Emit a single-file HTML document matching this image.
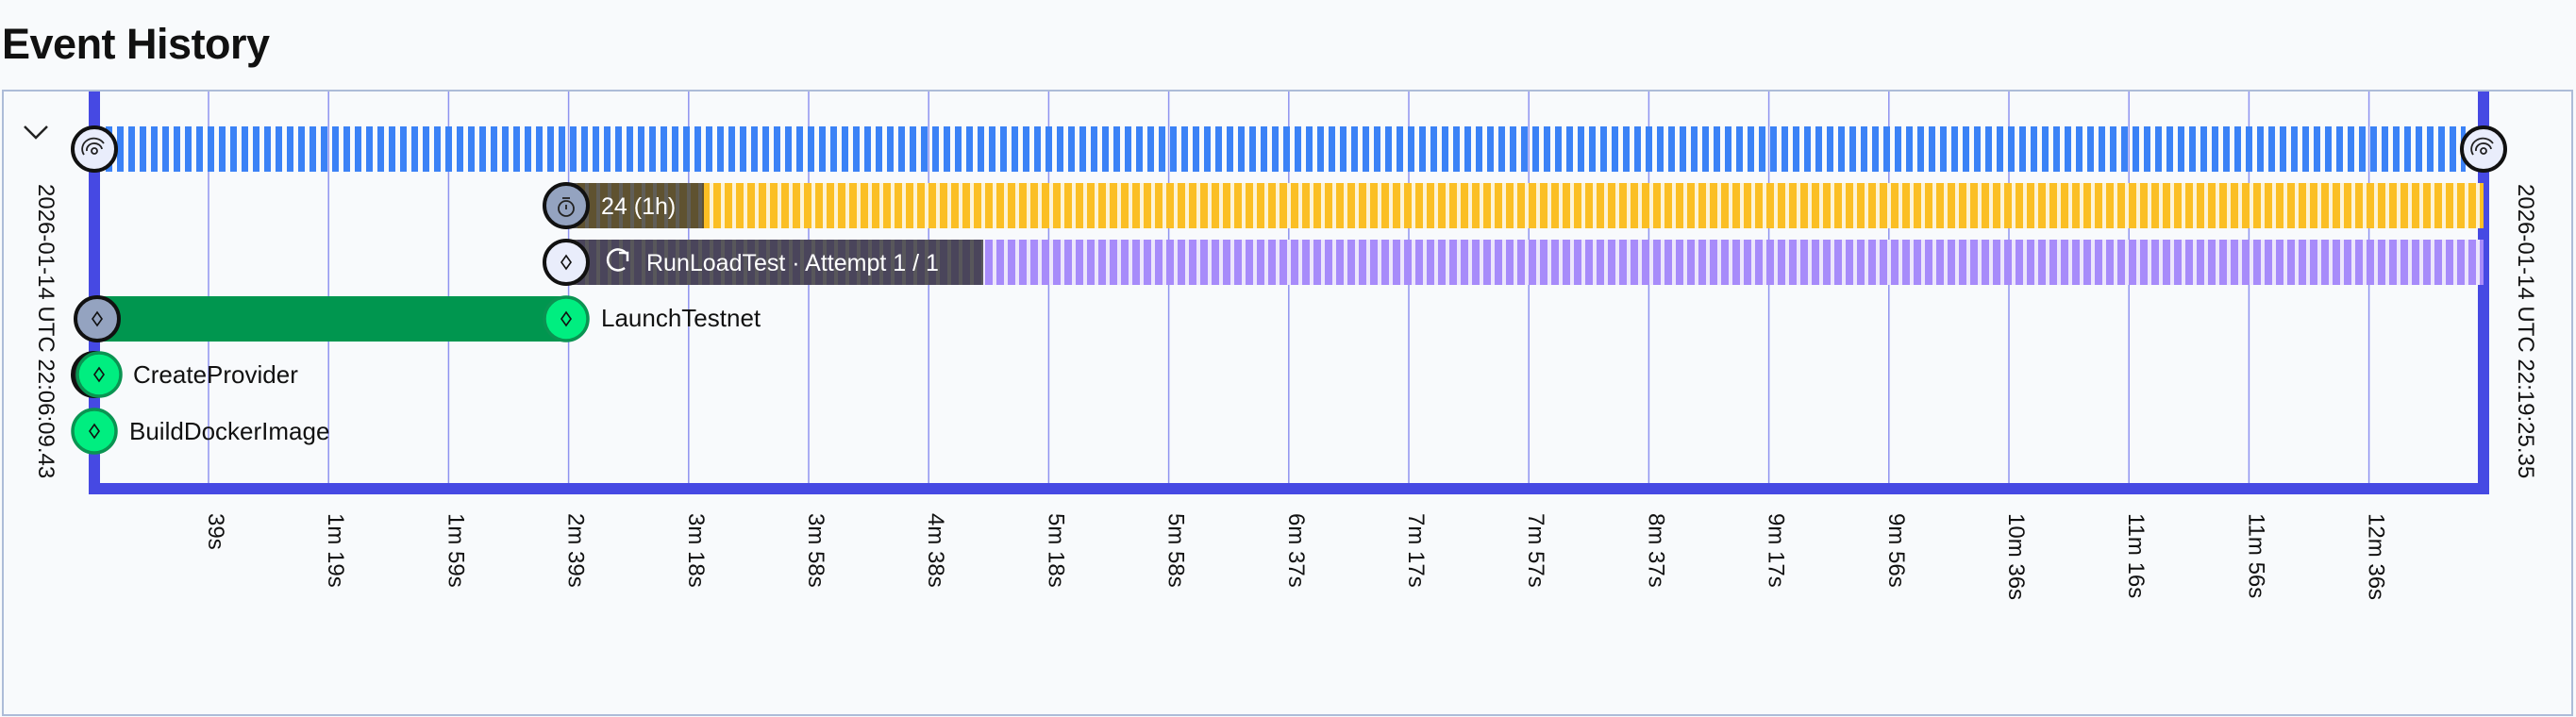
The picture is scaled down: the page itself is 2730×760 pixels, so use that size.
<!DOCTYPE html>
<html><head><meta charset="utf-8"><style>
html,body{margin:0;padding:0;background:#f8fafc;}
svg{display:block;font-family:"Liberation Sans",sans-serif;}
</style></head><body>
<svg width="2730" height="760" viewBox="0 0 2730 760" xmlns="http://www.w3.org/2000/svg">
<defs>
<pattern id="pb" x="100" y="0" width="12" height="10" patternUnits="userSpaceOnUse"><rect x="0" y="0" width="7" height="10" fill="#3b82f6"/></pattern>
<pattern id="py" x="600" y="0" width="12" height="10" patternUnits="userSpaceOnUse"><rect x="0" y="0" width="12" height="10" fill="#fdf3d6"/><rect x="0" y="0" width="8" height="10" fill="#fbbf24"/></pattern>
<pattern id="pp" x="600" y="0" width="12" height="10" patternUnits="userSpaceOnUse"><rect x="0" y="0" width="12" height="10" fill="#ece6fb"/><rect x="0" y="0" width="8" height="10" fill="#a78bfa"/></pattern>
</defs>
<rect width="2730" height="760" fill="#f8fafc"/>
<text x="2" y="62" font-size="45" font-weight="bold" fill="#111" letter-spacing="-0.5">Event History</text>
<rect x="3" y="96" width="2723" height="662" fill="none" stroke="#adbcd8" stroke-width="2"/>
<!-- gridlines -->
<g stroke="#8f93f0" stroke-width="1.5">
<line x1="221" y1="97" x2="221" y2="512"/><line x1="348.2" y1="97" x2="348.2" y2="512"/><line x1="475.4" y1="97" x2="475.4" y2="512"/><line x1="602.6" y1="97" x2="602.6" y2="512"/><line x1="729.8" y1="97" x2="729.8" y2="512"/><line x1="857" y1="97" x2="857" y2="512"/><line x1="984.2" y1="97" x2="984.2" y2="512"/><line x1="1111.4" y1="97" x2="1111.4" y2="512"/><line x1="1238.6" y1="97" x2="1238.6" y2="512"/><line x1="1365.8" y1="97" x2="1365.8" y2="512"/><line x1="1493" y1="97" x2="1493" y2="512"/><line x1="1620.2" y1="97" x2="1620.2" y2="512"/><line x1="1747.4" y1="97" x2="1747.4" y2="512"/><line x1="1874.6" y1="97" x2="1874.6" y2="512"/><line x1="2001.8" y1="97" x2="2001.8" y2="512"/><line x1="2129" y1="97" x2="2129" y2="512"/><line x1="2256.2" y1="97" x2="2256.2" y2="512"/><line x1="2383.4" y1="97" x2="2383.4" y2="512"/><line x1="2510.6" y1="97" x2="2510.6" y2="512"/>
</g>
<!-- axis -->
<rect x="94" y="97" width="12" height="427" fill="#4649e3"/>
<rect x="2626" y="97" width="12" height="427" fill="#4649e3"/>
<rect x="94" y="512" width="2544" height="12" fill="#4649e3"/>
<!-- chevron -->
<polyline points="26,134 38,146 50,134" fill="none" stroke="#222" stroke-width="2.5"/>
<!-- bars -->
<rect x="100" y="134" width="2513" height="48" fill="url(#pb)"/>
<rect x="600" y="194" width="2032" height="48" fill="url(#py)"/>
<rect x="600" y="194" width="146" height="48" fill="#333" fill-opacity="0.78"/>
<rect x="600" y="254" width="2032" height="48" fill="url(#pp)"/>
<rect x="600" y="254" width="442" height="48" fill="#333" fill-opacity="0.8"/>
<rect x="103" y="314" width="497" height="48" fill="#00964f"/>
<!-- text on bars -->
<text x="637" y="227" font-size="25" fill="#fff">24 (1h)</text>
<path d="M664 269 A11 11 0 1 0 662 284" fill="none" stroke="#fff" stroke-width="2.5"/>
<polyline points="656,268 665,268 665,277" fill="none" stroke="#fff" stroke-width="2.5"/>
<text x="685" y="287" font-size="25" fill="#fff">RunLoadTest · Attempt 1 / 1</text>
<text x="637" y="346" font-size="26" fill="#111">LaunchTestnet</text>
<text x="141" y="406" font-size="26" fill="#111">CreateProvider</text>
<text x="137" y="466" font-size="26" fill="#111">BuildDockerImage</text>
<!-- circles -->
<g stroke="#111" stroke-width="4">
<circle cx="100" cy="158" r="23" fill="#e9edfb"/>
<circle cx="2632" cy="158" r="23" fill="#e9edfb"/>
<circle cx="600" cy="218" r="23" fill="#94a3c0"/>
<circle cx="600" cy="278" r="23" fill="#e9edfb"/>
<circle cx="103" cy="338" r="23" fill="#94a3c0"/>
<circle cx="100" cy="397" r="23" fill="#222"/>
</g>
<g stroke="#0a9452" stroke-width="3.5">
<circle cx="600" cy="338" r="23" fill="#00ee80"/>
<circle cx="105" cy="397" r="23" fill="#00ee80"/>
<circle cx="100" cy="457" r="23" fill="#00ee80"/>
</g>
<!-- fingerprint icons -->
<g fill="none" stroke="#222" stroke-width="1.8">
<circle cx="100" cy="160" r="3"/><path d="M92 160 A8 7 0 0 1 108 158"/><path d="M89 164 A12 11 0 0 1 110 152"/>
<circle cx="2632" cy="160" r="3"/><path d="M2624 160 A8 7 0 0 1 2640 158"/><path d="M2621 164 A12 11 0 0 1 2642 152"/>
<!-- timer -->
<circle cx="600" cy="221" r="8"/><line x1="600" y1="217" x2="600" y2="222"/><line x1="596" y1="210" x2="604" y2="210"/>
</g>
<!-- diamonds -->
<g fill="none" stroke="#111" stroke-width="1.6">
<polygon points="600,271 605,278 600,285 595,278"/>
<polygon points="103,331 108,338 103,345 98,338"/>
<polygon points="600,331 605,338 600,345 595,338"/>
<polygon points="105,390 110,397 105,404 100,397"/>
<polygon points="100,450 105,457 100,464 95,457"/>
</g>
<!-- date labels -->
<text transform="translate(41,195) rotate(90)" font-size="24" fill="#111">2026-01-14 UTC 22:06:09.43</text>
<text transform="translate(2669,195) rotate(90)" font-size="24" fill="#111">2026-01-14 UTC 22:19:25.35</text>
<!-- tick labels -->
<g font-size="24" fill="#111">
<text transform="translate(221,544) rotate(90)">39s</text>
<text transform="translate(348.2,544) rotate(90)">1m 19s</text>
<text transform="translate(475.4,544) rotate(90)">1m 59s</text>
<text transform="translate(602.6,544) rotate(90)">2m 39s</text>
<text transform="translate(729.8,544) rotate(90)">3m 18s</text>
<text transform="translate(857,544) rotate(90)">3m 58s</text>
<text transform="translate(984.2,544) rotate(90)">4m 38s</text>
<text transform="translate(1111.4,544) rotate(90)">5m 18s</text>
<text transform="translate(1238.6,544) rotate(90)">5m 58s</text>
<text transform="translate(1365.8,544) rotate(90)">6m 37s</text>
<text transform="translate(1493,544) rotate(90)">7m 17s</text>
<text transform="translate(1620.2,544) rotate(90)">7m 57s</text>
<text transform="translate(1747.4,544) rotate(90)">8m 37s</text>
<text transform="translate(1874.6,544) rotate(90)">9m 17s</text>
<text transform="translate(2001.8,544) rotate(90)">9m 56s</text>
<text transform="translate(2129,544) rotate(90)">10m 36s</text>
<text transform="translate(2256.2,544) rotate(90)">11m 16s</text>
<text transform="translate(2383.4,544) rotate(90)">11m 56s</text>
<text transform="translate(2510.6,544) rotate(90)">12m 36s</text>
</g>
</svg>
</body></html>
